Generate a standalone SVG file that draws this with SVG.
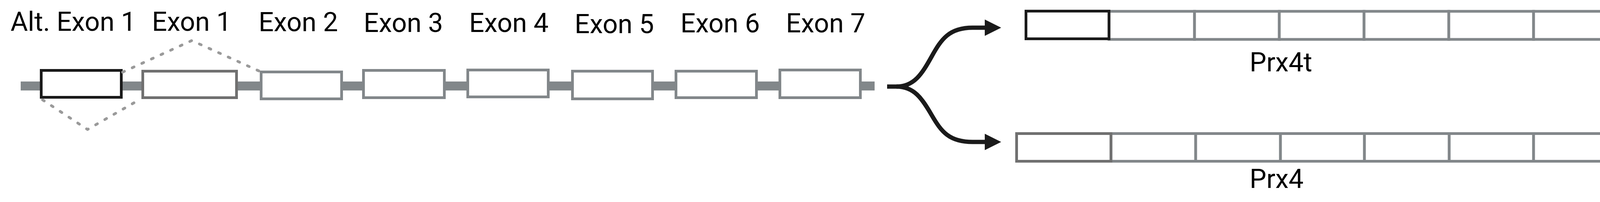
<svg xmlns="http://www.w3.org/2000/svg" width="4163" height="518" viewBox="0 0 4163 518">
<style>
.lbl{font-family:Roboto,"Liberation Sans",sans-serif;font-size:68px;fill:#000}
.ex{fill:#fff;stroke:#82878a;stroke-width:7}
.alt{fill:#fff;stroke:#1a1a1a;stroke-width:7}
.e1{fill:#fff;stroke:#707070;stroke-width:7}
.dot{fill:none;stroke:#9a9a9a;stroke-width:7;stroke-linecap:round;stroke-dasharray:5 22}
.arr{fill:none;stroke:#1a1a1a;stroke-width:11}
</style>
<rect width="4163" height="518" fill="#fff"/>
<g id="backbone"><rect x="53" y="209" width="2186" height="23" fill="#82878a"/></g>
<g id="alt-exon-1"><rect class="alt" x="105.5" y="180.5" width="205" height="69"/><text class="lbl" x="27" y="79">Alt. Exon 1</text></g>
<g id="exon-1"><rect class="e1" x="365.5" y="182.5" width="240" height="68"/><text class="lbl" x="389" y="79">Exon 1</text></g>
<g id="exon-2"><rect class="ex" x="668.5" y="184.5" width="206" height="69"/><text class="lbl" x="662" y="80">Exon 2</text></g>
<g id="exon-3"><rect class="ex" x="930.5" y="180.5" width="207" height="70"/><text class="lbl" x="931" y="82">Exon 3</text></g>
<g id="exon-4"><rect class="ex" x="1197.5" y="179.5" width="206" height="69"/><text class="lbl" x="1201" y="82">Exon 4</text></g>
<g id="exon-5"><rect class="ex" x="1465.5" y="182.5" width="205" height="71"/><text class="lbl" x="1471" y="85">Exon 5</text></g>
<g id="exon-6"><rect class="ex" x="1730.5" y="182.5" width="206" height="68"/><text class="lbl" x="1742" y="83">Exon 6</text></g>
<g id="exon-7"><rect class="ex" x="1996.5" y="179.5" width="206" height="71"/><text class="lbl" x="2012" y="83">Exon 7</text></g>
<g id="prx4t">
<rect class="ex" x="2839" y="29" width="219" height="72"/>
<rect class="ex" x="3058" y="29" width="217" height="72"/>
<rect class="ex" x="3275" y="29" width="217" height="72"/>
<rect class="ex" x="3492" y="29" width="217" height="72"/>
<rect class="ex" x="3709" y="29" width="217" height="72"/>
<rect class="ex" x="3926" y="29" width="216.5" height="72"/>
<rect class="alt" x="2626.5" y="28.5" width="212.5" height="71"/>
<text class="lbl" x="3199" y="183">Prx4t</text>
</g>
<g id="prx4">
<rect class="ex" x="2844" y="342.5" width="217" height="71"/>
<rect class="ex" x="3061" y="342.5" width="217" height="71"/>
<rect class="ex" x="3278" y="342.5" width="215" height="71"/>
<rect class="ex" x="3493" y="342.5" width="217" height="71"/>
<rect class="ex" x="3710" y="342.5" width="216" height="71"/>
<rect class="ex" x="3926" y="342.5" width="216.5" height="71"/>
<rect class="e1" x="2602.5" y="342.5" width="241.5" height="71"/>
<text class="lbl" x="3199" y="482">Prx4</text>
</g>
<g id="connectors">
<polyline class="dot" points="314,185 491,104 663,182"/>
<polyline class="dot" points="109,256 224,332 351,259"/>
<path class="arr" d="M2271,222 H2295 C2340,222 2360,190 2385,145 C2410,100 2430,71 2490,71 H2525"/>
<path class="arr" d="M2295,222 C2340,222 2360,252 2385,295 C2410,338 2430,364 2490,364 H2525"/>
<polygon points="2521,50 2563,71 2521,92" fill="#1a1a1a"/>
<polygon points="2521,343 2563,364 2521,385" fill="#1a1a1a"/>
</g>
</svg>
